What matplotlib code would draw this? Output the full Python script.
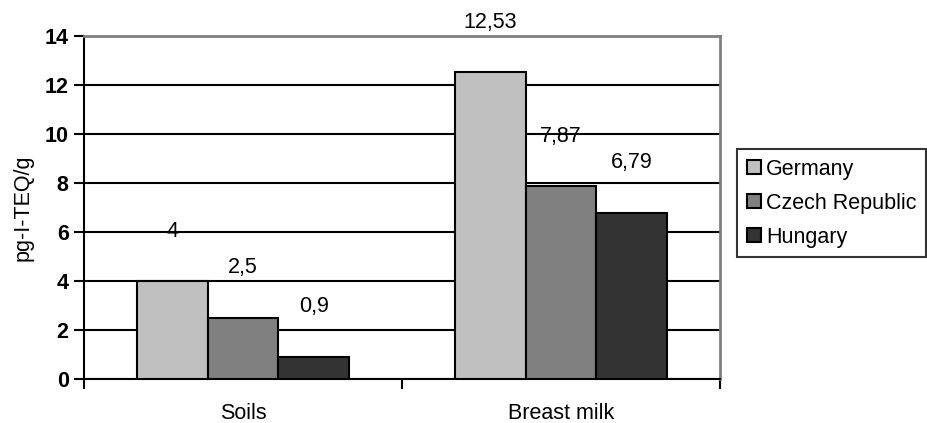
import matplotlib.pyplot as plt
import numpy as np

plt.rcParams['font.family'] = ['Liberation Sans', 'DejaVu Sans']

# Dados do gráfico
categorias = ['Soils', 'Breast milk']
paises = ['Germany', 'Czech Republic', 'Hungary']
germany = [4, 12.53]
czech = [2.5, 7.87]
hungary = [0.9, 6.79]
rotulos = [['4', '12,53'], ['2,5', '7,87'], ['0,9', '6,79']]
cores = ['#c0c0c0', '#808080', '#333333']

fs = 15.5

fig = plt.figure(figsize=(9.27, 4.23), dpi=100)
ax = fig.add_axes([84 / 927, 1 - 379 / 423, (720 - 84) / 927, (379 - 36) / 423])

x = np.arange(len(categorias))
w = 1 / 4.5
series = [germany, czech, hungary]
for i, (vals, nome) in enumerate(zip(series, paises)):
    pos = x + (i - 1) * w
    ax.bar(pos, vals, width=w, color=cores[i], edgecolor='black',
           linewidth=1.5, label=nome, zorder=3)
    for p, v, t in zip(pos, vals, rotulos[i]):
        ax.annotate(t, (p, v), xytext=(0, 36), textcoords='offset points',
                    ha='center', va='center', fontsize=fs)

ax.set_xlim(-0.5, 1.5)
ax.set_ylim(0, 14)
ax.set_yticks(range(0, 15, 2))
ax.yaxis.grid(True, color='black', linewidth=1.5, zorder=0)
ax.set_axisbelow(True)

ax.set_xticks([-0.5, 0.5, 1.5])
ax.set_xticklabels([])
ax.set_xticks(x, minor=True)
ax.set_xticklabels(categorias, minor=True, fontsize=fs)
ax.tick_params(axis='x', which='minor', length=0, pad=17)
ax.tick_params(axis='x', which='major', length=7, width=1.5, direction='out')
ax.tick_params(axis='y', length=7, width=1.5, direction='out', labelsize=fs, pad=4)
for t in ax.get_yticklabels():
    t.set_fontweight('bold')

ax.spines['left'].set_linewidth(1.5)
ax.spines['bottom'].set_linewidth(1.5)
ax.spines['top'].set_color('#808080')
ax.spines['right'].set_color('#808080')
ax.spines['top'].set_linewidth(2)
ax.spines['right'].set_linewidth(2)

ax.set_ylabel('pg-I-TEQ/g', fontsize=fs, labelpad=8)

leg = fig.legend(loc='upper left', bbox_to_anchor=(737 / 927, 1 - 149 / 423),
                 fontsize=fs, frameon=True, fancybox=False, edgecolor='black',
                 handlelength=0.65, handleheight=0.65, handletextpad=0.25,
                 borderpad=0.45, labelspacing=0.6, borderaxespad=0)
leg.get_frame().set_linewidth(1.5)

fig.savefig('out.png', dpi=100)
plt.close()
